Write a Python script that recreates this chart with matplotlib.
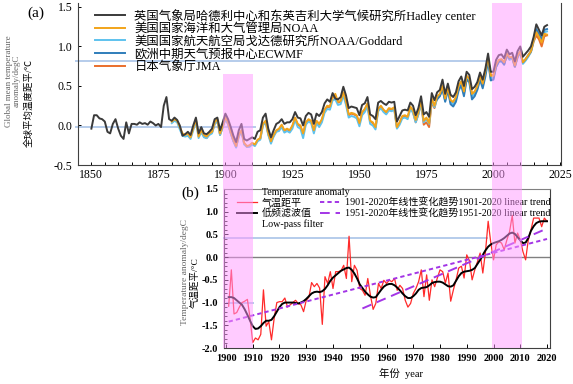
import numpy as np
import matplotlib
matplotlib.use('Agg')
import matplotlib.pyplot as plt

plt.rcParams['font.family'] = ['Liberation Serif', 'Noto Sans CJK SC', 'DejaVu Sans']
plt.rcParams['axes.unicode_minus'] = False

# ---- panel (a): global mean temperature anomaly, five datasets ----
years_hadley = np.arange(1850, 2021)
hadley = [
    -0.04, 0.13, 0.13, 0.09, 0.08, 0.05, -0.08, -0.10, 0.02, 0.08,
    -0.04, -0.13, -0.17, 0.04, -0.10, 0.02, 0.02, 0.01, 0.04, 0.02,
    0.03, 0.01, 0.05, 0.03, 0.00, 0.02, -0.02, 0.25, 0.36, 0.08,
    0.06, 0.10, 0.07, 0.00, -0.13, -0.11, -0.08, -0.12, 0.00, 0.10,
    -0.10, -0.02, -0.10, -0.11, -0.08, -0.04, 0.08, 0.10, -0.06, 0.04,
    0.15, 0.08, -0.02, -0.13, -0.21, -0.06, 0.02, -0.17, -0.19, -0.17,
    -0.15, -0.17, -0.08, -0.06, 0.10, 0.15, -0.04, -0.15, -0.06, 0.02,
    0.04, 0.08, 0.02, 0.04, 0.04, 0.08, 0.17, 0.10, 0.09, 0.00,
    0.12, 0.16, 0.14, 0.02, 0.15, 0.12, 0.17, 0.28, 0.33, 0.30,
    0.41, 0.34, 0.33, 0.36, 0.49, 0.38, 0.22, 0.24, 0.23, 0.22,
    0.13, 0.26, 0.28, 0.36, 0.14, 0.12, 0.08, 0.29, 0.31, 0.28,
    0.26, 0.30, 0.29, 0.30, 0.05, 0.12, 0.19, 0.20, 0.19, 0.29,
    0.25, 0.13, 0.22, 0.37, 0.14, 0.17, 0.11, 0.41, 0.32, 0.42,
    0.45, 0.58, 0.40, 0.53, 0.39, 0.36, 0.42, 0.56, 0.62, 0.50,
    0.68, 0.64, 0.46, 0.49, 0.55, 0.67, 0.58, 0.72, 0.91, 0.68,
    0.68, 0.83, 0.89, 0.90, 0.85, 0.96, 0.90, 0.92, 0.81, 0.94,
    1.00, 0.87, 0.91, 0.95, 1.00, 1.12, 1.28, 1.21, 1.14, 1.25,
    1.27]

years_noaa = np.arange(1880, 2021)
noaa = [
    0.05, 0.08, 0.06, -0.02, -0.10, -0.12, -0.10, -0.15, -0.04, 0.08,
    -0.14, -0.06, -0.12, -0.14, -0.10, -0.08, 0.04, 0.08, -0.10, 0.00,
    0.10, 0.04, -0.08, -0.18, -0.26, -0.12, -0.06, -0.22, -0.26, -0.25,
    -0.22, -0.24, -0.18, -0.16, 0.02, 0.06, -0.10, -0.20, -0.12, -0.06,
    -0.04, 0.01, -0.06, -0.04, -0.06, 0.00, 0.10, 0.02, 0.00, -0.10,
    0.04, 0.08, 0.06, -0.06, 0.06, 0.02, 0.08, 0.20, 0.25, 0.24,
    0.36, 0.40, 0.30, 0.31, 0.42, 0.30, 0.14, 0.16, 0.15, 0.13,
    0.03, 0.17, 0.21, 0.28, 0.06, 0.04, -0.02, 0.21, 0.25, 0.20,
    0.17, 0.22, 0.21, 0.23, -0.02, 0.04, 0.12, 0.13, 0.11, 0.24,
    0.19, 0.07, 0.17, 0.31, 0.06, 0.10, 0.03, 0.34, 0.25, 0.37,
    0.40, 0.50, 0.34, 0.49, 0.32, 0.30, 0.36, 0.50, 0.56, 0.43,
    0.63, 0.59, 0.40, 0.43, 0.50, 0.63, 0.53, 0.69, 0.86, 0.63,
    0.63, 0.77, 0.83, 0.84, 0.80, 0.91, 0.86, 0.87, 0.76, 0.88,
    0.94, 0.80, 0.84, 0.89, 0.94, 1.08, 1.18, 1.12, 1.05, 1.16,
    1.15]

years_goddard = np.arange(1880, 2021)
goddard = [
    0.03, 0.06, 0.04, -0.05, -0.13, -0.14, -0.13, -0.17, -0.06, 0.06,
    -0.16, -0.08, -0.15, -0.16, -0.12, -0.10, 0.02, 0.06, -0.12, -0.02,
    0.08, 0.02, -0.10, -0.20, -0.28, -0.14, -0.08, -0.24, -0.27, -0.27,
    -0.24, -0.26, -0.20, -0.18, 0.00, 0.04, -0.12, -0.23, -0.14, -0.08,
    -0.07, -0.02, -0.09, -0.07, -0.09, -0.04, 0.07, -0.02, -0.04, -0.16,
    0.01, 0.05, 0.03, -0.10, 0.03, -0.02, 0.04, 0.16, 0.21, 0.20,
    0.32, 0.33, 0.26, 0.27, 0.38, 0.26, 0.10, 0.12, 0.11, 0.09,
    -0.01, 0.13, 0.17, 0.24, 0.02, 0.00, -0.05, 0.18, 0.22, 0.17,
    0.14, 0.19, 0.18, 0.20, -0.04, 0.01, 0.09, 0.10, 0.08, 0.21,
    0.16, 0.04, 0.14, 0.28, 0.04, 0.08, 0.02, 0.32, 0.23, 0.34,
    0.38, 0.47, 0.31, 0.46, 0.29, 0.27, 0.33, 0.47, 0.53, 0.40,
    0.60, 0.56, 0.37, 0.40, 0.47, 0.60, 0.50, 0.66, 0.82, 0.60,
    0.60, 0.74, 0.80, 0.81, 0.77, 0.89, 0.83, 0.85, 0.74, 0.86,
    0.92, 0.78, 0.82, 0.87, 0.93, 1.07, 1.19, 1.13, 1.07, 1.18,
    1.19]

years_ecmwf = np.arange(1979, 2021)
ecmwf = [
    0.33, 0.37, 0.46, 0.30, 0.45, 0.27, 0.24, 0.30, 0.44, 0.51,
    0.37, 0.58, 0.55, 0.33, 0.37, 0.45, 0.58, 0.47, 0.62, 0.82,
    0.57, 0.58, 0.74, 0.81, 0.82, 0.77, 0.90, 0.85, 0.87, 0.75,
    0.87, 0.94, 0.80, 0.84, 0.89, 0.94, 1.09, 1.22, 1.16, 1.09,
    1.21, 1.22]

years_jma = np.arange(1891, 2021)
jma = [
    -0.08, -0.14, -0.16, -0.11, -0.09, 0.02, 0.06, -0.12, -0.02,
    0.08, 0.02, -0.10, -0.20, -0.27, -0.13, -0.07, -0.23, -0.27, -0.26,
    -0.23, -0.25, -0.19, -0.17, 0.01, 0.05, -0.11, -0.21, -0.13, -0.07,
    -0.05, 0.00, -0.07, -0.05, -0.07, -0.01, 0.09, 0.01, -0.01, -0.11,
    0.03, 0.07, 0.05, -0.07, 0.05, 0.01, 0.07, 0.19, 0.24, 0.23,
    0.35, 0.38, 0.29, 0.30, 0.41, 0.29, 0.13, 0.15, 0.14, 0.12,
    0.02, 0.16, 0.20, 0.27, 0.05, 0.03, -0.03, 0.20, 0.24, 0.19,
    0.16, 0.21, 0.20, 0.22, -0.03, 0.03, 0.11, 0.12, 0.10, 0.22,
    0.17, 0.04, 0.14, 0.28, 0.01, 0.04, -0.02, 0.30, 0.22, 0.35,
    0.38, 0.48, 0.33, 0.48, 0.31, 0.29, 0.35, 0.49, 0.55, 0.42,
    0.62, 0.58, 0.40, 0.42, 0.49, 0.62, 0.52, 0.68, 0.85, 0.63,
    0.64, 0.76, 0.82, 0.83, 0.78, 0.88, 0.84, 0.86, 0.74, 0.87,
    0.92, 0.79, 0.83, 0.88, 0.93, 1.06, 1.14, 1.09, 1.00, 1.13,
    1.14]

labels_a = ['英国气象局哈德利中心和东英吉利大学气候研究所Hadley center',
            '美国国家海洋和大气管理局NOAA',
            '美国国家航天航空局戈达德研究所NOAA/Goddard',
            '欧洲中期天气预报中心ECWMF',
            '日本气象厅JMA']

# reference lines in (a): level and end year
ref_a_levels = [0.82, -0.02]
ref_a_ends = [1998.5, 1911.5]

# highlighted periods (shared by both panels)
band_starts = [1899.2, 1999.5]
band_ends = [1910.3, 2010.7]
band_tops = [0.65, 1.55]

# ---- panel (b): temperature anomaly 1901-2020 ----
years_b = np.arange(1901, 2021)
anomaly = [
    -1.08, -0.28, -1.25, -1.22, -1.10, -1.00, -0.97, -0.93, -1.35, -1.88,
    -1.78, -1.82, -1.70, -0.72, -1.52, -1.42, -1.82, -1.35, -1.00, -0.98,
    -0.98, -0.90, -1.10, -1.05, -1.00, -0.95, -1.02, -1.05, -1.20, -0.95,
    -0.88, -0.56, -0.65, -0.58, -0.68, -1.48, -0.43, -0.58, -0.32, -0.69,
    -0.32, -0.32, -0.30, -0.18, -0.47, 0.46, -0.54, -0.18, -0.29, -0.69,
    -0.73, -0.84, -0.47, -0.84, -1.15, -1.02, -0.58, -0.69, -0.51, -0.58,
    -0.51, -0.54, -0.47, -0.73, -0.62, -0.69, -0.95, -1.10, -1.02, -0.80,
    -0.69, -0.54, -0.28, -0.87, -0.39, -0.95, -0.50, -0.65, -0.46, -0.28,
    -0.32, -0.57, -0.35, -0.97, -0.72, -0.50, -0.24, -0.20, -0.46, 0.05,
    -0.08, -0.50, -0.28, -0.10, 0.09, -0.35, 0.12, 0.79, 0.31, -0.06,
    0.27, 0.34, 0.31, 0.16, 0.38, 0.56, 0.92, 0.31, 0.53, 0.38,
    0.12, -0.06, 0.38, 0.60, 0.86, 0.86, 0.86, 0.67, 0.86, 0.79]
lowpass = [
    -0.88, -0.88, -0.90, -0.95, -1.00, -1.05, -1.15, -1.27, -1.40, -1.52,
    -1.58, -1.57, -1.52, -1.45, -1.40, -1.40, -1.38, -1.30, -1.20, -1.10,
    -1.03, -1.00, -1.00, -1.00, -1.00, -1.01, -1.02, -1.00, -0.97, -0.92,
    -0.86, -0.80, -0.77, -0.76, -0.77, -0.75, -0.70, -0.62, -0.52, -0.45,
    -0.40, -0.35, -0.30, -0.27, -0.24, -0.23, -0.28, -0.36, -0.47, -0.60,
    -0.68, -0.76, -0.82, -0.87, -0.89, -0.88, -0.80, -0.72, -0.65, -0.61,
    -0.59, -0.59, -0.62, -0.67, -0.73, -0.80, -0.86, -0.90, -0.90, -0.86,
    -0.80, -0.72, -0.68, -0.67, -0.66, -0.62, -0.57, -0.55, -0.54, -0.54,
    -0.56, -0.60, -0.64, -0.65, -0.62, -0.52, -0.42, -0.35, -0.32, -0.31,
    -0.30, -0.28, -0.24, -0.15, -0.06, 0.05, 0.15, 0.23, 0.28, 0.31,
    0.33, 0.35, 0.38, 0.42, 0.47, 0.52, 0.54, 0.51, 0.44, 0.37,
    0.31, 0.32, 0.42, 0.58, 0.68, 0.75, 0.78, 0.79, 0.79, 0.79]

trend_1901_years = [1901, 2020]
trend_1901_vals = [-1.42, 0.40]
trend_1951_years = [1951, 2020]
trend_1951_vals = [-1.13, 0.63]

labels_b = ['气温距平', '低频滤波值',
            '1901-2020年线性变化趋势1901-2020 linear trend',
            '1951-2020年线性变化趋势1951-2020 linear trend']

# reference lines in (b)
ref_b_levels = [0.42, -1.0]
ref_b_starts = [1899.0, 1900.0]
ref_b_ends = [1998.0, 1910.3]

refblue = '#A9C3E8'
purple = '#A335E6'

fig = plt.figure(figsize=(5.73, 3.84), dpi=100)
ax_b = fig.add_axes([0.3909, 0.09375, 0.5689, 0.4141])
ax_a = fig.add_axes([0.1361, 0.5703, 0.8429, 0.4219])
ax_a.set_zorder(3)
ax_a.patch.set_visible(False)

# ---------- (a) ----------
ax_a.hlines(ref_a_levels, 1843.9, ref_a_ends, color=refblue, lw=1.2, zorder=1, clip_on=False)
h1, = ax_a.plot(years_hadley, hadley, color='#3A3A3A', lw=1.4, zorder=6)
h2, = ax_a.plot(years_noaa, noaa, color='#F2A41A', lw=1.4, zorder=5)
h3, = ax_a.plot(years_goddard, goddard, color='#5EC2EE', lw=1.4, zorder=3)
h4, = ax_a.plot(years_ecmwf, ecmwf, color='#2F7DBA', lw=1.4, zorder=4)
h5, = ax_a.plot(years_jma, jma, color='#EA6F2C', lw=1.4, zorder=2)

ax_a.set_xlim(1845, 2025.2)
ax_a.set_ylim(-0.5, 1.55)
ax_a.set_xticks(range(1850, 2026, 25))
ax_a.set_xticks(range(1850, 2026, 5), minor=True)
ax_a.set_yticks([-0.5, 0.0, 0.5, 1.0, 1.5])
ax_a.set_yticklabels(['-0.5', '0.0', '0.5', '1.0', '1.5'])
ax_a.tick_params(which='both', direction='in', length=2.5, width=0.7, labelsize=8.5, pad=3)
ax_a.tick_params(axis='y', pad=4)
ax_a.spines['top'].set_visible(False)
for s in ['left', 'bottom', 'right']:
    ax_a.spines[s].set_color('#404040')
    ax_a.spines[s].set_linewidth(0.8)

# highlighted periods, drawn over both panels
bottom_frac = (165 - 348) / 162
for x0, x1, top in zip(band_starts, band_ends, band_tops):
    top_frac = (top + 0.5) / 2.05
    ax_a.axvspan(x0, x1, ymin=bottom_frac, ymax=min(top_frac, 1.0), color='#FF99FF',
                 alpha=0.5, lw=0, clip_on=False, zorder=10)

ax_a.legend([h1, h2, h3, h4, h5], labels_a, loc='upper left', bbox_to_anchor=(0.035, 0.965),
            frameon=False, fontsize=8.9, handlelength=2.4, handletextpad=0.8,
            labelspacing=0.05, borderaxespad=0, borderpad=0)

# ---------- (b) ----------
ax_b.axhline(0, color='#808080', lw=1.0, zorder=1)
ax_b.hlines(ref_b_levels, ref_b_starts, ref_b_ends, color=refblue, lw=1.2, zorder=1, clip_on=False)
l1, = ax_b.plot(years_b, anomaly, color='#FF2A2A', lw=0.9, zorder=3)
l2, = ax_b.plot(years_b, lowpass, color='black', lw=1.4, zorder=4)
l3, = ax_b.plot(trend_1901_years, trend_1901_vals, color=purple, lw=1.4,
                linestyle=(0, (2.2, 1.6)), zorder=5)
l4, = ax_b.plot(trend_1951_years, trend_1951_vals, color=purple, lw=1.4,
                linestyle=(0, (5, 3)), zorder=5)

ax_b.set_xlim(1899.25, 2021.1)
ax_b.set_ylim(-2.0, 1.5)
ax_b.set_xticks(range(1900, 2021, 10))
ax_b.set_yticks(np.arange(-2.0, 1.51, 0.5))
ax_b.set_yticklabels(['-2.0', '-1.5', '-1.0', '-0.5', '0.0', '0.5', '1.0', '1.5'])
ax_b.set_yticks(np.arange(-2.0, 1.51, 0.1), minor=True)
ax_b.tick_params(which='major', direction='in', length=3, width=0.7, labelsize=7.5, pad=4)
ax_b.tick_params(which='minor', direction='in', length=2, width=0.6)
for lab in ax_b.get_xticklabels() + ax_b.get_yticklabels():
    lab.set_fontweight('bold')
for s in ['left', 'bottom', 'right']:
    ax_b.spines[s].set_color('#404040')
    ax_b.spines[s].set_linewidth(0.8)
ax_b.spines['top'].set_color('#808080')

ax_b.legend([l1, l2, l3, l4], labels_b, ncol=2, loc='upper left', bbox_to_anchor=(0.04, 0.945),
            frameon=False, fontsize=7.2, handlelength=2.0, handletextpad=0.5,
            columnspacing=0.8, labelspacing=0.05, borderaxespad=0, borderpad=0)
ax_b.text(0.1166, 0.975, 'Temperature anomaly', transform=ax_b.transAxes,
          fontsize=7.2, ha='left', va='center')
ax_b.text(0.1166, 0.78, 'Low-pass filter', transform=ax_b.transAxes,
          fontsize=7.2, ha='left', va='center')
ax_b.text(0.543, -0.157, '年份  year', transform=ax_b.transAxes,
          fontsize=7.5, ha='center', va='center')

# axis titles and panel letters
fig.text(13 / 573, 1 - 81 / 384, 'Global mean temperature\nanomaly/degC', rotation=90,
         fontsize=6.5, color='#666666', ha='center', va='center', linespacing=0.95)
fig.text(29 / 573, 1 - 103 / 384, '全球平均温度距平/℃', rotation=90,
         fontsize=6.8, ha='center', va='center')
fig.text(185 / 573, 1 - 272 / 384, 'Temperature anomaly/degC', rotation=90,
         fontsize=6.8, color='#666666', ha='center', va='center')
fig.text(195 / 573, 1 - 283 / 384, '气温距平/°C', rotation=90,
         fontsize=6.8, ha='center', va='center')
fig.text(27 / 573, 1 - 13 / 384, '(a)', fontsize=11, ha='left', va='center')
fig.text(181 / 573, 1 - 193 / 384, '(b)', fontsize=11, ha='left', va='center')

fig.savefig('out.png', dpi=100)
